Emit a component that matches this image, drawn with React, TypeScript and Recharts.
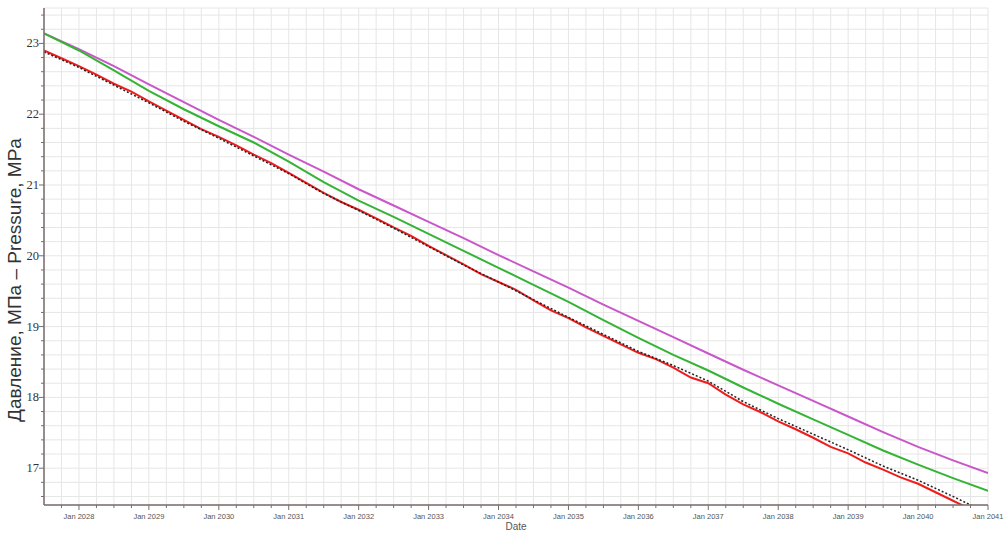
import React from 'react';
import { LineChart, Line, XAxis, YAxis, CartesianGrid, Label } from 'recharts';

// time grids (decimal years)
const halfYears = Array.from({ length: 28 }, (_, i) => 2027.5 + i * 0.5);
const quarters = Array.from({ length: 55 }, (_, i) => 2027.5 + i * 0.25);

const magentaValues = [
  23.14, 22.92, 22.68, 22.42, 22.17, 21.92, 21.68, 21.43, 21.19, 20.94, 20.71, 20.48, 20.25, 20.01,
  19.78, 19.55, 19.31, 19.08, 18.85, 18.62, 18.39, 18.17, 17.95, 17.73, 17.51, 17.3, 17.11, 16.93,
];
const greenValues = [
  23.14, 22.9, 22.62, 22.33, 22.07, 21.83, 21.6, 21.33, 21.04, 20.78, 20.55, 20.31, 20.07, 19.83,
  19.59, 19.35, 19.09, 18.84, 18.6, 18.38, 18.14, 17.91, 17.69, 17.47, 17.25, 17.05, 16.86, 16.68,
];
const redValues = [
  22.9, 22.79, 22.68, 22.56, 22.43, 22.32, 22.18, 22.05, 21.92, 21.79,
  21.68, 21.56, 21.43, 21.31, 21.17, 21.03, 20.89, 20.76, 20.65, 20.53,
  20.4, 20.28, 20.14, 20.01, 19.88, 19.74, 19.63, 19.52, 19.37, 19.23,
  19.12, 18.99, 18.87, 18.75, 18.63, 18.54, 18.42, 18.28, 18.2, 18.04,
  17.9, 17.79, 17.66, 17.55, 17.43, 17.3, 17.21, 17.08, 16.98, 16.87,
  16.78, 16.66, 16.54, 16.42, 16.3,
];
const blackValues = [
  22.88, 22.66, 22.41, 22.16, 21.9, 21.66, 21.41, 21.16, 20.88, 20.64, 20.39, 20.13, 19.87, 19.63,
  19.38, 19.13, 18.89, 18.65, 18.45, 18.23, 17.94, 17.7, 17.48, 17.26, 17.03, 16.83, 16.6, 16.36,
];

const xTicks = quarters.slice(1);
const yTicks = Array.from({ length: 35 }, (_, i) => (166 + 2 * i) / 10);

const magentaData = halfYears.map((t, i) => ({ t, v: magentaValues[i] }));
const greenData = halfYears.map((t, i) => ({ t, v: greenValues[i] }));
const redData = quarters.map((t, i) => ({ t, v: redValues[i] }));
const blackData = halfYears.map((t, i) => ({ t, v: blackValues[i] }));

const axisColor = '#7a6b6b';
const isWhole = (v: number) => Math.abs(v - Math.round(v)) < 1e-6;

const XTick = (props: any) => {
  const { x, y, payload } = props;
  const major = isWhole(payload.value);
  return (
    <g>
      <line x1={x} x2={x} y1={y} y2={y + (major ? 5 : 3)} stroke={axisColor} />
      {major && (
        <text x={x} y={y + 14} textAnchor="middle" fontSize={7.5} fill="#555" fontFamily="Arial, 'Liberation Sans'">
          {`Jan ${Math.round(payload.value)}`}
        </text>
      )}
    </g>
  );
};

const YTick = (props: any) => {
  const { x, y, payload } = props;
  const major = isWhole(payload.value);
  return (
    <g>
      <line x1={x - (major ? 5 : 3)} x2={x} y1={y} y2={y} stroke={axisColor} />
      {major && (
        <text x={x - 5} y={y + 4} textAnchor="end" fontSize={12.5} fill="#333" fontFamily="'Liberation Serif', 'Times New Roman', serif">
          {Math.round(payload.value)}
        </text>
      )}
    </g>
  );
};

export default function App() {
  return (
    <div style={{ position: 'absolute', left: 0, top: 0, background: '#fff' }}>
      <LineChart width={1006} height={533} margin={{ top: 8, right: 18, bottom: 0, left: 0 }}>
        <CartesianGrid stroke="#e6e6e6" strokeWidth={1} />
        <XAxis
          type="number"
          dataKey="t"
          domain={[2027.5, 2041]}
          allowDataOverflow
          ticks={xTicks}
          interval={0}
          height={28}
          tickSize={0}
          tickMargin={0}
          tickLine={false}
          tick={<XTick />}
          axisLine={{ stroke: axisColor, strokeWidth: 1.5 }}
        >
          <Label
            content={() => (
              <text x={516} y={530} textAnchor="middle" fontSize={10} fill="#555" fontFamily="Arial, 'Liberation Sans'">
                Date
              </text>
            )}
          />
        </XAxis>
        <YAxis
          type="number"
          domain={[16.48, 23.5]}
          allowDataOverflow
          ticks={yTicks}
          interval={0}
          width={44}
          tickSize={0}
          tickMargin={0}
          tickLine={false}
          tick={<YTick />}
          axisLine={{ stroke: axisColor, strokeWidth: 1.5 }}
        >
          <Label
            content={() => (
              <text
                transform="translate(14, 280) rotate(-90)"
                textAnchor="middle"
                dominantBaseline="central"
                fontSize={19}
                fill="#333"
                fontFamily="Arial, 'Liberation Sans'"
              >
                Давление, МПа – Pressure, MPa
              </text>
            )}
          />
        </YAxis>
        <Line data={magentaData} dataKey="v" stroke="#c957c9" strokeWidth={2} dot={false} isAnimationActive={false} />
        <Line data={greenData} dataKey="v" stroke="#35b335" strokeWidth={2} dot={false} isAnimationActive={false} />
        <Line data={redData} dataKey="v" stroke="#f01c1c" strokeWidth={2} dot={false} isAnimationActive={false} />
        <Line data={blackData} dataKey="v" stroke="#222" strokeWidth={1.5} strokeDasharray="2 2" dot={false} isAnimationActive={false} />
      </LineChart>
    </div>
  );
}
